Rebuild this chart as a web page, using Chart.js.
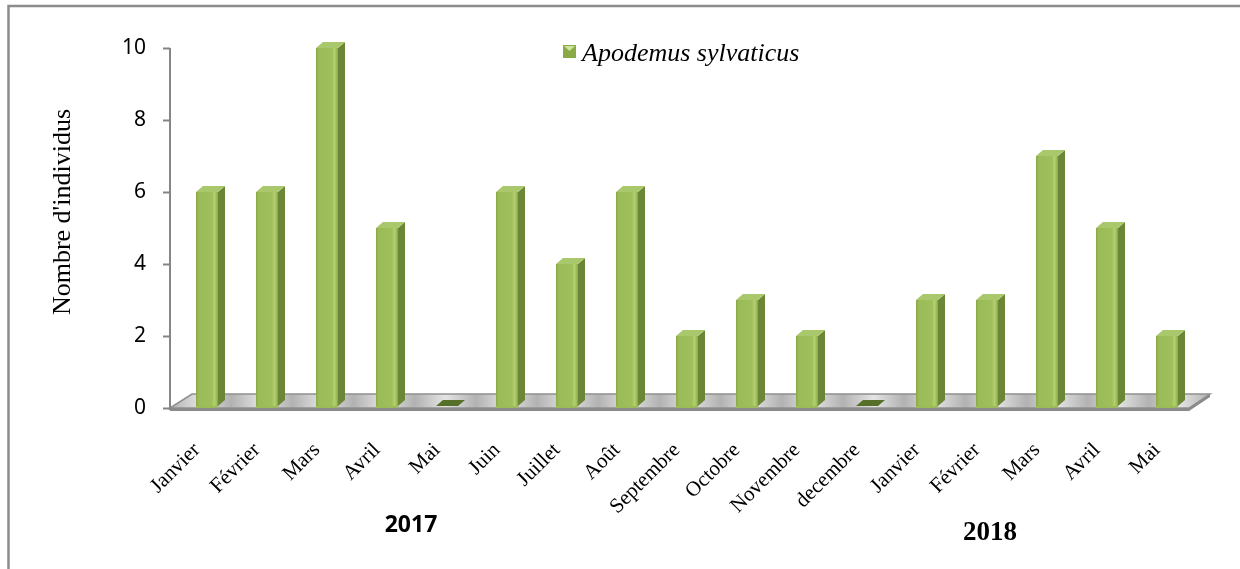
<!DOCTYPE html>
<html>
<head>
<meta charset="utf-8">
<script src="https://cdn.jsdelivr.net/npm/chart.js@4.4.1/dist/chart.umd.min.js"></script>
<style>
  html, body { margin: 0; padding: 0; background: #fff; }
  canvas { display: block; }
</style>
</head>
<body>
<canvas id="captureChart" width="1240" height="569"></canvas>
<script>
const months = ['Janvier', 'Février', 'Mars', 'Avril', 'Mai', 'Juin', 'Juillet', 'Août', 'Septembre',
                'Octobre', 'Novembre', 'decembre', 'Janvier', 'Février', 'Mars', 'Avril', 'Mai'];
const captures = [6, 6, 10, 5, 0, 6, 4, 6, 2, 3, 2, 0, 3, 3, 7, 5, 2];
const yTicks = [0, 2, 4, 6, 8, 10];
const years = ['2017', '2018'];
const seriesName = 'Apodemus sylvaticus';
const axisTitle = "Nombre d'individus";

const SERIF = '"Liberation Serif", "Times New Roman", serif';
const SANS = '"Noto Sans", "Open Sans", sans-serif';
const DX = 7, DY = 6; // bar depth

// fake 3D: frame, floor, axis line, bar sides/tops, legend and year captions
const excel3d = {
  id: 'excel3d',
  beforeDraw(chart) {
    const ctx = chart.ctx;
    ctx.save();
    ctx.fillStyle = '#fff';
    ctx.fillRect(0, 0, chart.width, chart.height);
    ctx.strokeStyle = '#8c8c8c';
    ctx.lineWidth = 2.5;
    ctx.beginPath();
    ctx.moveTo(8.5, chart.height);
    ctx.lineTo(8.5, 6);
    ctx.lineTo(chart.width, 6);
    ctx.stroke();
    ctx.restore();
  },
  beforeDatasetsDraw(chart) {
    const ctx = chart.ctx;
    const { left: L, right: R, bottom: B } = chart.chartArea;
    const y = chart.scales.y;
    ctx.save();

    // floor
    const fl = L - 7, fr = R - 8, bl = L + 15, br = R + 13, bt = B - 14;
    const g = ctx.createLinearGradient(fl, 0, br, 0);
    for (let i = 0; i <= 34; i++) {
      g.addColorStop(i / 34, i % 2 ? '#e4e4e4' : '#b2b2b2');
    }
    ctx.fillStyle = g;
    ctx.beginPath();
    ctx.moveTo(fl, B);
    ctx.lineTo(bl, bt);
    ctx.lineTo(br, bt);
    ctx.lineTo(fr, B);
    ctx.closePath();
    ctx.fill();
    ctx.strokeStyle = '#909090';
    ctx.lineWidth = 1.5;
    ctx.stroke();
    ctx.fillStyle = '#8a8a8a';
    ctx.beginPath();
    ctx.moveTo(fl, B);
    ctx.lineTo(fr, B);
    ctx.lineTo(br, bt);
    ctx.lineTo(br, bt + 3);
    ctx.lineTo(fr, B + 3);
    ctx.lineTo(fl, B + 3);
    ctx.closePath();
    ctx.fill();

    // value axis line and tick marks
    ctx.strokeStyle = '#868686';
    ctx.lineWidth = 2;
    ctx.beginPath();
    ctx.moveTo(fl, y.getPixelForValue(yTicks[yTicks.length - 1]));
    ctx.lineTo(fl, B + 2);
    yTicks.forEach(v => {
      const py = Math.round(y.getPixelForValue(v)) + 0.5;
      ctx.moveTo(fl - 7, py);
      ctx.lineTo(fl, py);
    });
    ctx.stroke();
    ctx.restore();
  },
  afterDatasetsDraw(chart) {
    const ctx = chart.ctx;
    const meta = chart.getDatasetMeta(0);
    const values = chart.data.datasets[0].data;
    ctx.save();
    meta.data.forEach((bar, i) => {
      const { x, y, base, width } = bar.getProps(['x', 'y', 'base', 'width'], true);
      const x0 = x - width / 2, x1 = x + width / 2;
      const b = base - 2;
      if (values[i] === 0) {
        ctx.fillStyle = '#56702a';
        ctx.beginPath();
        ctx.moveTo(x0, b);
        ctx.lineTo(x0 + DX, b - DY);
        ctx.lineTo(x1 + DX, b - DY);
        ctx.lineTo(x1, b);
        ctx.closePath();
        ctx.fill();
        return;
      }
      // front face
      const fg = ctx.createLinearGradient(x0, 0, x1, 0);
      fg.addColorStop(0, '#88a849');
      fg.addColorStop(0.12, '#9bbb59');
      fg.addColorStop(0.72, '#9ebf5b');
      fg.addColorStop(0.84, '#b4d070');
      fg.addColorStop(0.94, '#9bbb59');
      fg.addColorStop(1, '#86a547');
      ctx.fillStyle = fg;
      ctx.fillRect(x0, y, width, b - y);
      // side
      ctx.fillStyle = '#6b8736';
      ctx.beginPath();
      ctx.moveTo(x1, y);
      ctx.lineTo(x1 + DX, y - DY);
      ctx.lineTo(x1 + DX, b - DY);
      ctx.lineTo(x1, b);
      ctx.closePath();
      ctx.fill();
      // top
      ctx.fillStyle = '#a9c76b';
      ctx.beginPath();
      ctx.moveTo(x0, y);
      ctx.lineTo(x0 + DX, y - DY);
      ctx.lineTo(x1 + DX, y - DY);
      ctx.lineTo(x1, y);
      ctx.closePath();
      ctx.fill();
    });

    // axis title
    ctx.fillStyle = '#000';
    ctx.save();
    ctx.translate(63, 212);
    ctx.rotate(-Math.PI / 2);
    ctx.font = '26px ' + SERIF;
    ctx.textAlign = 'center';
    ctx.textBaseline = 'middle';
    ctx.fillText(axisTitle, 0, 0);
    ctx.restore();

    // legend
    const lx = 563, ly = 45, s = 13;
    ctx.fillStyle = '#8aaa48';
    ctx.fillRect(lx, ly, s, s);
    ctx.fillStyle = '#cfe39a';
    ctx.beginPath();
    ctx.moveTo(lx + 1, ly + 1);
    ctx.lineTo(lx + s - 1, ly + 1);
    ctx.lineTo(lx + s / 2, ly + 6);
    ctx.closePath();
    ctx.fill();
    ctx.fillStyle = '#000';
    ctx.font = 'italic 26px ' + SERIF;
    ctx.textAlign = 'left';
    ctx.textBaseline = 'alphabetic';
    ctx.fillText(chart.data.datasets[0].label, 582, 61);

    // year captions under each block of months
    const xs = chart.scales.x;
    ctx.textAlign = 'center';
    ctx.font = 'bold 23px ' + SANS;
    ctx.fillText(years[0], xs.getPixelForValue(3.4), 532);
    ctx.font = 'bold 27px ' + SERIF;
    ctx.fillText(years[1], xs.getPixelForValue(13.05), 540);
    ctx.restore();
  }
};

new Chart(document.getElementById('captureChart'), {
  type: 'bar',
  data: {
    labels: months,
    datasets: [{
      label: seriesName,
      data: captures,
      backgroundColor: '#9bbb59',
      categoryPercentage: 1,
      barPercentage: 22 / 60
    }]
  },
  options: {
    responsive: false,
    animation: false,
    devicePixelRatio: 1,
    layout: { padding: { top: 48, right: 43, left: 0, bottom: 0 } },
    plugins: {
      legend: { display: false },
      tooltip: { enabled: false }
    },
    scales: {
      x: {
        grid: { display: false, drawTicks: false },
        border: { display: false },
        ticks: {
          autoSkip: false,
          minRotation: 45,
          maxRotation: 45,
          padding: 30,
          labelOffset: -10,
          color: '#000',
          font: { family: SERIF, size: 21 }
        },
        afterFit(scale) { scale.height = 161; }
      },
      y: {
        min: 0,
        max: 10,
        grid: { display: false, drawTicks: false },
        border: { display: false },
        ticks: {
          padding: 31,
          color: '#000',
          font: { family: SANS, size: 21 }
        },
        afterBuildTicks(scale) { scale.ticks = yTicks.map(v => ({ value: v })); },
        afterFit(scale) { scale.width = 177; }
      }
    }
  },
  plugins: [excel3d]
});
</script>
</body>
</html>
